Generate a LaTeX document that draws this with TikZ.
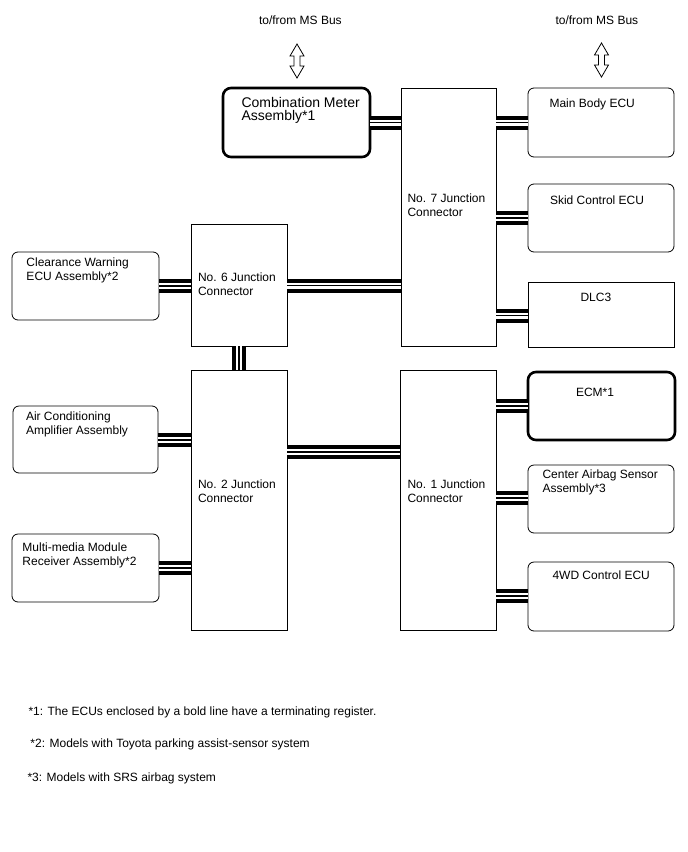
\documentclass[tikz,border=0pt]{standalone}
\usepackage{fontspec}
\setmainfont{Liberation Sans}
\usetikzlibrary{calc}
\begin{document}
\begin{tikzpicture}[x=1pt,y=-1pt,
  ecu/.style={draw=black, line width=0.8pt, rounded corners=6pt, fill=white, inner sep=0pt, outer sep=0pt},
  ecubold/.style={draw=black, line width=2.6pt, rounded corners=8pt, fill=white, inner sep=0pt, outer sep=0pt},
  jbox/.style={draw=black, line width=0.8pt, fill=white, inner sep=0pt, outer sep=0pt},
  lbl/.style={anchor=north west, inner sep=0pt, outer sep=0pt, align=left, font=\fontsize{12}{14}\selectfont},
  lblbig/.style={anchor=north west, inner sep=0pt, outer sep=0pt, align=left, font=\fontsize{14}{13.5}\selectfont},
  busblack/.style={draw=black, line width=14pt},
  buswhite/.style={draw=white, line width=6pt},
  busmid/.style={draw=black, line width=1.2pt},
  busarrow/.style={draw=black, line width=0.8pt, fill=white}
]
\useasboundingbox (0,0) rectangle (688,852);

% boxes
\node[ecubold, minimum width=147pt, minimum height=69pt] (cm) at (296.5,122.5) {};
\node[jbox, minimum width=95pt, minimum height=258pt] (j7) at (448.5,217) {};
\node[ecu, minimum width=146pt, minimum height=69pt] (mb) at (601,122.5) {};
\node[ecu, minimum width=146pt, minimum height=68pt] (skid) at (601,218) {};
\node[jbox, minimum width=146pt, minimum height=65pt] (dlc) at (601,314.5) {};
\node[ecu, minimum width=147pt, minimum height=68pt] (cw) at (85.5,286) {};
\node[jbox, minimum width=96pt, minimum height=122pt] (j6) at (239,285) {};
\node[jbox, minimum width=96pt, minimum height=260pt] (j2) at (239,500) {};
\node[ecu, minimum width=145pt, minimum height=67pt] (ac) at (85.5,439.5) {};
\node[ecu, minimum width=147pt, minimum height=68pt] (mm) at (85.5,568) {};
\node[jbox, minimum width=96pt, minimum height=260pt] (j1) at (448,500) {};
\node[ecubold, minimum width=147pt, minimum height=68pt] (ecm) at (601.5,406) {};
\node[ecu, minimum width=146pt, minimum height=68pt] (cab) at (601,499) {};
\node[ecu, minimum width=146pt, minimum height=69pt] (wd) at (601,596.5) {};

% labels
\node[lbl] (t1) at (259,16) {to/from MS Bus};
\node[lbl] (t2) at (555.5,16) {to/from MS Bus};
\node[lblbig] (lcm) at (241.5,97) {Combination Meter\\Assembly*1};
\node[lbl] (lj7) at (407.5,194) {No. 7 Junction\\Connector};
\node[lbl] (lmb) at (549.5,99) {Main Body ECU};
\node[lbl] (lskid) at (550,195.5) {Skid Control ECU};
\node[lbl] (ldlc) at (580.5,293) {DLC3};
\node[lbl] (lcw) at (26.5,258) {Clearance Warning\\ECU Assembly*2};
\node[lbl] (lj6) at (198,273) {No. 6 Junction\\Connector};
\node[lbl] (lac) at (26,412) {Air Conditioning\\Amplifier Assembly};
\node[lbl] (lj2) at (198,480) {No. 2 Junction\\Connector};
\node[lbl] (lmm) at (22.5,543) {Multi-media Module\\Receiver Assembly*2};
\node[lbl] (lj1) at (407.5,480) {No. 1 Junction\\Connector};
\node[lbl] (lecm) at (576,388) {ECM*1};
\node[lbl] (lcab) at (542.5,470) {Center Airbag Sensor\\Assembly*3};
\node[lbl] (lwd) at (552.5,571) {4WD Control ECU};
\node[lbl] (n1) at (28.5,706.5) {*1: The ECUs enclosed by a bold line have a terminating register.};
\node[lbl] (n2) at (30.5,739) {*2: Models with Toyota parking assist-sensor system};
\node[lbl] (n3) at (27.5,773) {*3: Models with SRS airbag system};

% MS bus arrows
\coordinate (a1) at (297,61);
\coordinate (a2) at (601.5,60);
\foreach \c in {a1,a2}{
  \draw[busarrow] ($(\c)+(0,-17)$) -- ++(7,12) -- ++(-4,0) -- ++(0,10) -- ++(4,0) -- ++(-7,12)
    -- ++(-7,-12) -- ++(4,0) -- ++(0,-10) -- ++(-4,0) -- cycle;
}

% buses
\foreach \a/\b/\y in {cm.east/j7.west/122.5, j7.east/mb.west/122.5, j7.east/skid.west/218,
  j7.east/dlc.west/315.5, j6.east/j7.west/285.5, cw.east/j6.west/286, ac.east/j2.west/440,
  j2.east/j1.west/452, mm.east/j2.west/568, j1.east/ecm.west/406, j1.east/cab.west/498,
  j1.east/wd.west/596}{
  \draw[busblack] (\a |- 0,\y) -- (\b |- 0,\y);
  \draw[buswhite] (\a |- 0,\y) -- (\b |- 0,\y);
  \draw[busmid] (\a |- 0,\y) -- (\b |- 0,\y);
}
\draw[busblack] (j6.south) -- (j2.north);
\draw[buswhite] (j6.south) -- (j2.north);
\draw[busmid] (j6.south) -- (j2.north);
\end{tikzpicture}
\end{document}
